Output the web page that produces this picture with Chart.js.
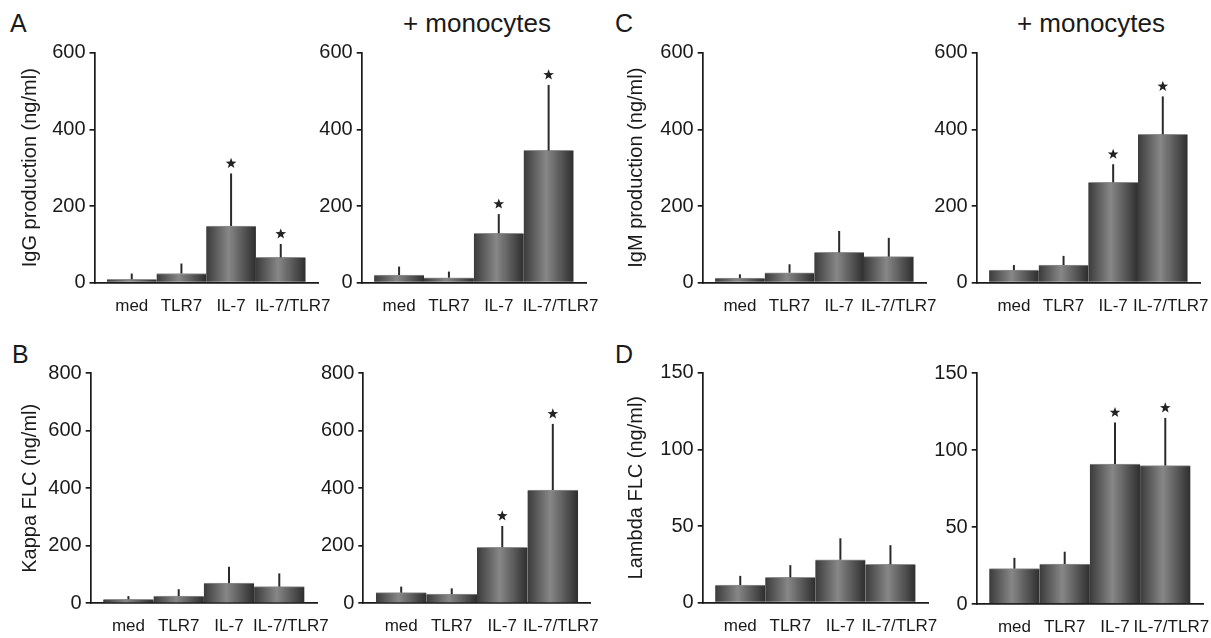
<!DOCTYPE html>
<html>
<head>
<meta charset="utf-8">
<title>Ig and FLC production</title>
<script src="https://cdn.jsdelivr.net/npm/chart.js@4.4.1/dist/chart.umd.min.js"></script>
<style>
  html, body { margin: 0; padding: 0; background: #fff; overflow: hidden; }
  body { width: 1211px; height: 638px; position: relative;
         font-family: "Liberation Sans", Arial, sans-serif; color: #1a1a1a; }
  canvas { position: absolute; }
  .letter { position: absolute; font-size: 25px; line-height: 25px; }
  .cond { position: absolute; width: 240px; text-align: center; font-size: 26px; line-height: 26px; }
</style>
</head>
<body>
<div class="letter" style="left:10px;top:11px">A</div>
<div class="letter" style="left:12px;top:342px">B</div>
<div class="letter" style="left:615px;top:11px">C</div>
<div class="letter" style="left:615px;top:342px">D</div>
<div class="cond" style="left:357px;top:10px">+ monocytes</div>
<div class="cond" style="left:971px;top:10px">+ monocytes</div>

<canvas id="igg"></canvas>
<canvas id="iggMono"></canvas>
<canvas id="kappa"></canvas>
<canvas id="kappaMono"></canvas>
<canvas id="igm"></canvas>
<canvas id="igmMono"></canvas>
<canvas id="lambda"></canvas>
<canvas id="lambdaMono"></canvas>

<script>
// ---------- data ----------
const CATEGORIES = ["med", "TLR7", "IL-7", "IL-7/TLR7"];

const TICKS_600 = [0, 200, 400, 600];
const TICKS_800 = [0, 200, 400, 600, 800];
const TICKS_150 = [0, 50, 100, 150];

// IgG (ng/ml), B cells alone / + monocytes
const IGG_MEAN      = [9, 24, 148, 66];
const IGG_SD        = [15, 26, 137, 35];
const IGG_SIG       = [false, false, true, true];
const IGG_MONO_MEAN = [20, 13, 129, 345];
const IGG_MONO_SD   = [22, 16, 50, 171];
const IGG_MONO_SIG  = [false, false, true, true];

// Kappa FLC (ng/ml)
const KAPPA_MEAN      = [14, 25, 70, 58];
const KAPPA_SD        = [11, 24, 57, 46];
const KAPPA_SIG       = [false, false, false, false];
const KAPPA_MONO_MEAN = [37, 32, 195, 394];
const KAPPA_MONO_SD   = [21, 20, 74, 230];
const KAPPA_MONO_SIG  = [false, false, true, true];

// IgM (ng/ml)
const IGM_MEAN      = [12, 26, 79, 68];
const IGM_SD        = [10, 22, 56, 49];
const IGM_SIG       = [false, false, false, false];
const IGM_MONO_MEAN = [33, 46, 262, 387];
const IGM_MONO_SD   = [13, 24, 47, 99];
const IGM_MONO_SIG  = [false, false, true, true];

// Lambda FLC (ng/ml)
const LAMBDA_MEAN      = [11.5, 16.5, 28, 25];
const LAMBDA_SD        = [6, 8, 14, 12.5];
const LAMBDA_SIG       = [false, false, false, false];
const LAMBDA_MONO_MEAN = [23, 26, 91, 90];
const LAMBDA_MONO_SD   = [7, 8, 27, 31];
const LAMBDA_MONO_SIG  = [false, false, true, true];

// ---------- layout ----------
// axisX / top / bottom / right are page pixels of the axis frame;
// left is the canvas edge for panels carrying a y title;
// shift nudges the long last label clear of "IL-7" (in bar widths).
const PANELS = [
  { id: "igg",        mean: IGG_MEAN,         sd: IGG_SD,         sig: IGG_SIG,         ticks: TICKS_600, title: "IgG production (ng/ml)",
    left: 18,  axisX: 94.5,  top: 52.7,  bottom: 282.7, right: 318,    shift: 0.24 },
  { id: "iggMono",    mean: IGG_MONO_MEAN,    sd: IGG_MONO_SD,    sig: IGG_MONO_SIG,    ticks: TICKS_600,
    axisX: 361.7, top: 52.7,  bottom: 282.7, right: 586,    shift: 0.24 },
  { id: "kappa",      mean: KAPPA_MEAN,       sd: KAPPA_SD,       sig: KAPPA_SIG,       ticks: TICKS_800, title: "Kappa FLC (ng/ml)",
    left: 18,  axisX: 90.7,  top: 373.3, bottom: 603.3, right: 317,    shift: 0.23 },
  { id: "kappaMono",  mean: KAPPA_MONO_MEAN,  sd: KAPPA_MONO_SD,  sig: KAPPA_MONO_SIG,  ticks: TICKS_800,
    axisX: 363.3, top: 373.3, bottom: 603.3, right: 590.7,  shift: 0.16 },
  { id: "igm",        mean: IGM_MEAN,         sd: IGM_SD,         sig: IGM_SIG,         ticks: TICKS_600, title: "IgM production (ng/ml)",
    left: 624, axisX: 702.7, top: 52.7,  bottom: 282.7, right: 926,    shift: 0.2 },
  { id: "igmMono",    mean: IGM_MONO_MEAN,    sd: IGM_MONO_SD,    sig: IGM_MONO_SIG,    ticks: TICKS_600,
    axisX: 976.7, top: 52.7,  bottom: 282.7, right: 1200,   shift: 0.16 },
  { id: "lambda",     mean: LAMBDA_MEAN,      sd: LAMBDA_SD,      sig: LAMBDA_SIG,      ticks: TICKS_150, title: "Lambda FLC (ng/ml)",
    left: 624, axisX: 702.7, top: 372.7, bottom: 602.7, right: 928,    shift: 0.18 },
  { id: "lambdaMono", mean: LAMBDA_MONO_MEAN, sd: LAMBDA_MONO_SD, sig: LAMBDA_MONO_SIG, ticks: TICKS_150,
    axisX: 976.7, top: 373.3, bottom: 604, right: 1203,     shift: 0.12 },
];

const INK = "#1a1a1a";
const FONT = "'Liberation Sans', Arial, sans-serif";
const PAD_TOP = 20, PAD_RIGHT = 40, X_AXIS_H = 40;
const AXIS_W = 1.7;

Chart.defaults.font.family = FONT;
Chart.defaults.color = INK;

// ---------- drawing helpers ----------

// cylinder-like shading across each bar
function barGradient(c) {
  const flat = "#5c5c5c";
  if (c.type !== "data") return flat;
  const x = c.chart.scales.x;
  if (!x) return flat;
  const centre = x.getPixelForValue(c.dataIndex);
  const half = (x.getPixelForValue(1) - x.getPixelForValue(0)) / 2;
  if (!isFinite(centre) || !isFinite(half) || half <= 0) return flat;
  const g = c.chart.ctx.createLinearGradient(centre - half, 0, centre + half, 0);
  g.addColorStop(0, "#3b3b3b");
  g.addColorStop(0.45, "#878787");
  g.addColorStop(1, "#2e2e2e");
  return g;
}

function drawStar(ctx, cx, cy, R, r) {
  ctx.beginPath();
  for (let k = 0; k < 10; k++) {
    const a = -Math.PI / 2 + k * Math.PI / 5;
    const rad = k % 2 ? r : R;
    ctx.lineTo(cx + rad * Math.cos(a), cy + rad * Math.sin(a));
  }
  ctx.closePath();
  ctx.fill();
}

// upper SD whisker (no cap) + significance star
const errorBars = {
  id: "errorBars",
  afterDatasetsDraw(chart) {
    const { ctx } = chart;
    const y = chart.scales.y;
    const ds = chart.data.datasets[0];
    const meta = chart.getDatasetMeta(0);
    ctx.save();
    ctx.strokeStyle = "#2a2a2a";
    ctx.fillStyle = "#222";
    ctx.lineWidth = 2;
    meta.data.forEach((bar, i) => {
      const top = y.getPixelForValue(ds.data[i].y + ds.sd[i]);
      ctx.beginPath();
      ctx.moveTo(bar.x, bar.y);
      ctx.lineTo(bar.x, top);
      ctx.stroke();
      if (ds.sig[i]) drawStar(ctx, bar.x, top - 10, 5.6, 2.3);
    });
    ctx.restore();
  },
};

// ---------- panels ----------

function makePanel(p) {
  const canvas = document.getElementById(p.id);
  const L = Math.round(p.left != null ? p.left : p.axisX - 60);
  const T = Math.round(p.top - PAD_TOP);
  const W = Math.ceil(p.right + PAD_RIGHT - L);
  const H = Math.ceil(p.bottom + X_AXIS_H - T);
  canvas.style.left = L + "px";
  canvas.style.top = T + "px";
  canvas.width = W;
  canvas.height = H;

  const yWidth = p.axisX - L;
  const padTop = p.top - T;
  const padRight = W - (p.right - L);
  const xHeight = H - (p.bottom - T);
  const last = CATEGORIES.length - 1;

  return new Chart(canvas, {
    type: "bar",
    data: {
      datasets: [{
        data: p.mean.map((v, i) => ({ x: i, y: v })),
        sd: p.sd,
        sig: p.sig,
        backgroundColor: barGradient,
        borderColor: "#8e8e8e",
        borderWidth: { top: 1, left: 0, right: 0, bottom: 0 },
        borderSkipped: "bottom",
        barPercentage: 1,
        categoryPercentage: 1,
      }],
    },
    options: {
      responsive: false,
      animation: false,
      devicePixelRatio: 1,
      events: [],
      layout: { padding: { left: 0, top: padTop, right: padRight, bottom: 0 } },
      plugins: { legend: { display: false }, tooltip: { enabled: false }, title: { display: false } },
      scales: {
        x: {
          type: "linear",
          min: -0.75,
          max: 3.75,
          offset: false,
          grid: { display: false, drawTicks: false, offset: false },
          border: { display: true, color: INK, width: AXIS_W },
          afterBuildTicks: s => {
            s.ticks = CATEGORIES.map((_, i) => ({ value: i === last ? i + p.shift : i }));
          },
          ticks: {
            autoSkip: false, maxRotation: 0, minRotation: 0,
            padding: 13, color: INK, font: { size: 17 },
            callback: (v, i) => CATEGORIES[i],
          },
          afterFit: s => { s.height = xHeight; },
        },
        y: {
          min: 0,
          max: p.ticks[p.ticks.length - 1],
          grid: { drawOnChartArea: false, drawTicks: true, tickLength: 5, color: INK, lineWidth: AXIS_W },
          border: { display: true, color: INK, width: AXIS_W },
          ticks: { stepSize: p.ticks[1] - p.ticks[0], padding: 4, color: INK, font: { size: 20 } },
          title: p.title
            ? { display: true, text: p.title, color: INK, font: { size: 20 }, padding: 0 }
            : { display: false },
          afterFit: s => { s.width = yWidth; },
        },
      },
    },
    plugins: [errorBars],
  });
}

PANELS.forEach(makePanel);
</script>
</body>
</html>
